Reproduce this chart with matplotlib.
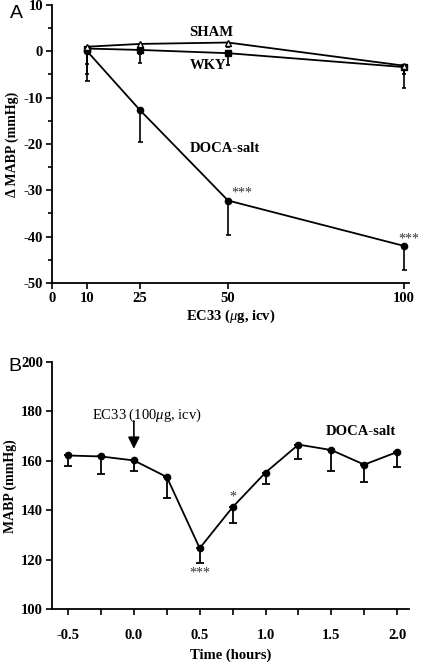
import matplotlib
matplotlib.use("Agg")
import matplotlib.pyplot as plt
from matplotlib.ticker import MultipleLocator

plt.rcParams['font.family'] = ['Liberation Serif', 'DejaVu Serif']
plt.rcParams['axes.unicode_minus'] = False
plt.rcParams['mathtext.fontset'] = 'custom'
plt.rcParams['mathtext.rm'] = 'Liberation Serif'
plt.rcParams['mathtext.it'] = 'Liberation Serif:italic'
plt.rcParams['mathtext.bf'] = 'Liberation Serif:bold'

# Panel A: dose response
doses = [10, 25, 50, 100]
sham = [1.0, 1.6, 1.9, -3.1]
sham_err = [3.7, 2.2, 1.0, 1.7]
wky = [0.6, 0.3, -0.4, -3.4]
wky_err = [5.4, 2.8, 2.5, 4.5]
doca = [0.0, -12.7, -32.2, -42.0]
doca_err = [6.4, 6.8, 7.5, 5.3]
a_xticks = [0, 10, 25, 50, 100]

# Panel B: time course
hours = [-0.5, -0.25, 0.0, 0.25, 0.5, 0.75, 1.0, 1.25, 1.5, 1.75, 2.0]
mabp = [162.2, 161.8, 160.2, 153.5, 124.7, 141.3, 155.3, 166.6, 164.4, 158.5, 163.6]
mabp_err = [4.2, 7.0, 4.4, 8.5, 5.9, 6.3, 4.8, 5.9, 8.6, 7.0, 6.1]
b_xticks = [-0.5, 0.0, 0.5, 1.0, 1.5, 2.0]

W, H = 424, 668
fig = plt.figure(figsize=(W / 100, H / 100), dpi=100)


def box(l, t, r, b):
    return [l / W, 1 - b / H, (r - l) / W, (b - t) / H]


def style(ax):
    for s in ['top', 'right']:
        ax.spines[s].set_visible(False)
    for s in ['left', 'bottom']:
        ax.spines[s].set_linewidth(1.3)
    ax.tick_params(which='both', direction='out', width=1.2, labelsize=10.5, pad=2.5)
    ax.tick_params(which='major', length=4)
    ax.tick_params(which='minor', length=3)
    for lab in ax.get_xticklabels() + ax.get_yticklabels():
        lab.set_fontweight('bold')


# ---- Panel A ----
axA = fig.add_axes(box(52, 5, 409, 283))
kw = dict(color='black', lw=1.3, elinewidth=1.2, capthick=1.2)
axA.errorbar(doses, doca, yerr=[doca_err, [0] * 4], fmt='-o', ms=4.5, capsize=1.8, **kw)
axA.errorbar(doses, wky, yerr=[wky_err, [0] * 4], fmt='-s', ms=4, capsize=1.5, **kw)
axA.errorbar(doses, sham, yerr=[sham_err, [0] * 4], fmt='-^', ms=4, mfc='white', capsize=1.5, **kw)
axA.set_xlim(0, 101.4)
axA.set_ylim(-50, 10)
axA.set_xticks(a_xticks)
axA.yaxis.set_major_locator(MultipleLocator(10))
axA.yaxis.set_minor_locator(MultipleLocator(5))
axA.set_ylabel('Δ MABP (mmHg)', fontsize=10, fontweight='bold', labelpad=3)
axA.set_xlabel(r'EC33 ($\mu$g, icv)', fontsize=10.5, fontweight='bold', labelpad=2)
style(axA)
tb = dict(fontsize=10.5, fontweight='bold', ha='left', va='center')
axA.text(39, 4.0, 'SHAM', **tb)
axA.text(39, -3.1, 'WKY', **tb)
axA.text(39, -20.9, 'DOCA-salt', **tb)
axA.text(54, -30.6, '***', fontsize=10, ha='center', va='center', color='#333333')
axA.text(101.3, -40.6, '***', fontsize=10, ha='center', va='center', color='#333333',
         clip_on=False)
fig.text(10 / W, 1 - 14 / H, 'A', family='Liberation Sans', fontsize=14, ha='left', va='center')

# ---- Panel B ----
axB = fig.add_axes(box(52, 362, 409, 609.3))
axB.errorbar(hours, mabp, yerr=[mabp_err, [0] * len(hours)], fmt='-o', ms=4.5,
             capsize=3, color='black', lw=1.3, elinewidth=1.3, capthick=1.3)
axB.set_xlim(-0.622, 2.09)
axB.set_ylim(100, 200)
axB.set_xticks(b_xticks)
axB.xaxis.set_minor_locator(MultipleLocator(0.25))
axB.yaxis.set_major_locator(MultipleLocator(20))
axB.set_ylabel('MABP (mmHg)', fontsize=10, fontweight='bold', labelpad=3)
axB.set_xlabel('Time (hours)', fontsize=10.5, fontweight='bold', labelpad=5)
style(axB)
axB.tick_params(axis='x', which='both', length=4, pad=10)
axB.text(0.1, 178.5, r'EC33 (100$\mu$g, icv)', fontsize=10.5, ha='center', va='center')
axB.annotate('', xy=(0.0, 164.9), xytext=(0.0, 176.2),
             arrowprops=dict(arrowstyle='-|>,head_length=0.7,head_width=0.35',
                             color='black', lw=1.2, shrinkA=0, shrinkB=0))
axB.text(1.46, 172, 'DOCA-salt', fontsize=10.5, fontweight='bold', ha='left', va='center')
axB.text(0.5, 114.5, '***', fontsize=10, ha='center', va='center', color='#333333')
axB.text(0.75, 145.5, '*', fontsize=10, ha='center', va='center', color='#333333')
fig.text(8 / W, 1 - 366 / H, 'B', family='Liberation Sans', fontsize=14, ha='left', va='center')

fig.savefig('out.png', dpi=100)
